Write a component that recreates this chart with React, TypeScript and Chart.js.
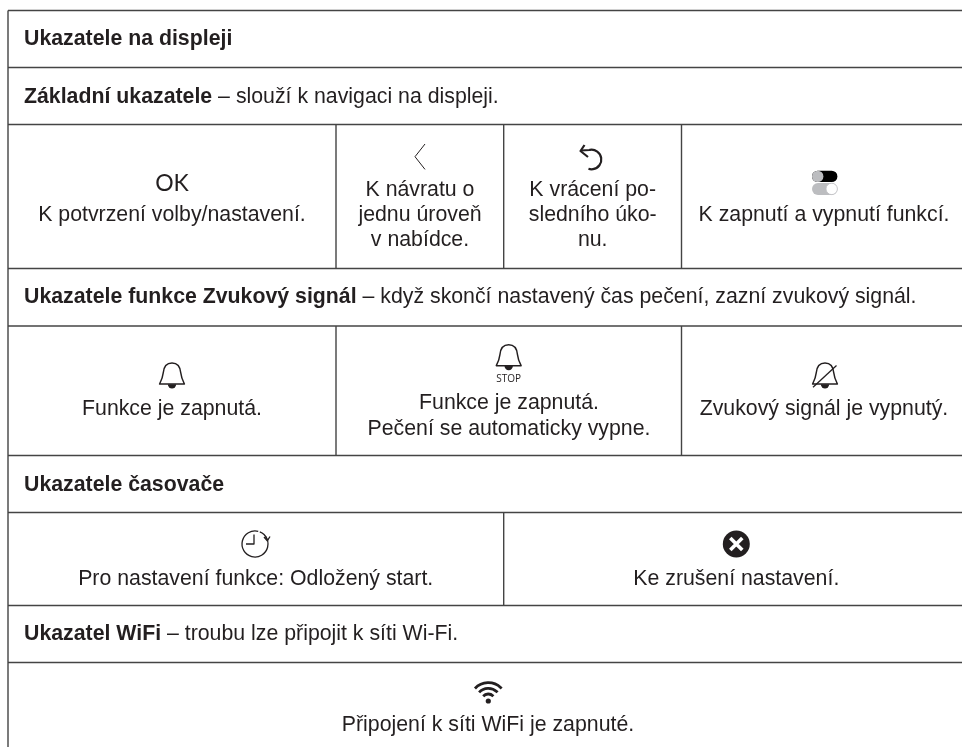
import React, { useEffect, useRef } from "react";
import { Chart, registerables } from "chart.js";

Chart.register(...registerables);

// ---- table content ----
const sectionTitles = [
  ["Ukazatele na displeji", ""],
  ["Základní ukazatele", " – slouží k navigaci na displeji."],
  ["Ukazatele funkce Zvukový signál", " – když skončí nastavený čas pečení, zazní zvukový signál."],
  ["Ukazatele časovače", ""],
  ["Ukazatel WiFi", " – troubu lze připojit k síti Wi-Fi."],
];
const navigationCells = [
  ["K potvrzení volby/nastavení."],
  ["K návratu o", "jednu úroveň", "v nabídce."],
  ["K vrácení po-", "sledního úko-", "nu."],
  ["K zapnutí a vypnutí funkcí."],
];
const soundCells = [
  ["Funkce je zapnutá."],
  ["Funkce je zapnutá.", "Pečení se automaticky vypne."],
  ["Zvukový signál je vypnutý."],
];
const timerCells = [["Pro nastavení funkce: Odložený start."], ["Ke zrušení nastavení."]];
const wifiCells = [["Připojení k síti WiFi je zapnuté."]];
const okLabel = "OK";
const stopLabel = "STOP";

// ---- table grid, in scale units ----
const rowEdges = [10.5, 67.5, 124.5, 268.5, 326, 455.5, 512.5, 605.5, 662.5];
const leftEdge = 8;
const rightEdge = 962;
const bottomEdge = 747;
const verticalRules = [
  [336, 124.5, 268.5],
  [503.7, 124.5, 268.5],
  [681.5, 124.5, 268.5],
  [336, 326, 455.5],
  [681.5, 326, 455.5],
  [503.7, 512.5, 605.5],
];

// ---- text anchors, in scale units ----
const titleX = 24;
const titleBaselines = [45, 102.5, 303, 490.5, 639.5];
const cellCentres = [
  [172, 420, 592.7, 824],
  [172, 509, 824],
  [255.7, 736.3],
  [488],
];
const cellBaselines = [
  [[221], [196, 221, 246], [196, 221, 246], [221]],
  [[415], [409, 434.5], [415]],
  [[585], [585]],
  [[730.5]],
];

const BODY = '"Liberation Sans", Arial, sans-serif';
const INK = "#231f20";
const TEXT_SIZE = 21.3;

function bellPath(ctx: CanvasRenderingContext2D) {
  // origin: centre of the bell's base line
  ctx.beginPath();
  ctx.moveTo(-12.4, 0);
  ctx.lineTo(12.4, 0);
  ctx.bezierCurveTo(10.4, -4, 9.2, -7, 8.8, -11);
  ctx.bezierCurveTo(8.2, -18, 4.5, -21, 0, -21);
  ctx.bezierCurveTo(-4.5, -21, -8.2, -18, -8.8, -11);
  ctx.bezierCurveTo(-9.2, -7, -10.4, -4, -12.4, 0);
  ctx.closePath();
  ctx.lineWidth = 1.5;
  ctx.strokeStyle = INK;
  ctx.stroke();
  ctx.beginPath();
  ctx.arc(0, 0.3, 4.2, 0, Math.PI);
  ctx.closePath();
  ctx.fillStyle = INK;
  ctx.fill();
}

const tablePlugin = {
  id: "tablePlugin",
  afterDatasetsDraw(chart: any) {
    const { ctx } = chart;
    const X = (v: number) => chart.scales.x.getPixelForValue(v);
    const Y = (v: number) => chart.scales.y.getPixelForValue(v);
    const at = (x: number, y: number, draw: () => void) => {
      ctx.save();
      ctx.translate(X(x), Y(y));
      draw();
      ctx.restore();
    };
    ctx.save();
    ctx.textBaseline = "alphabetic";
    ctx.fillStyle = INK;

    sectionTitles.forEach(([strong, plain], i) => {
      ctx.textAlign = "left";
      ctx.font = `bold ${TEXT_SIZE}px ${BODY}`;
      ctx.fillText(strong, X(titleX), Y(titleBaselines[i]));
      const w = ctx.measureText(strong).width;
      ctx.font = `${TEXT_SIZE}px ${BODY}`;
      ctx.fillText(plain, X(titleX) + w, Y(titleBaselines[i]));
    });

    ctx.textAlign = "center";
    ctx.font = `${TEXT_SIZE}px ${BODY}`;
    [navigationCells, soundCells, timerCells, wifiCells].forEach((row, r) => {
      row.forEach((lines, c) => {
        lines.forEach((line, l) => {
          ctx.fillText(line, X(cellCentres[r][c]), Y(cellBaselines[r][c][l]));
        });
      });
    });

    ctx.font = `23px Lato, "Open Sans", sans-serif`;
    ctx.fillText(okLabel, X(172), Y(190.7));
    ctx.font = `10px "Open Sans", sans-serif`;
    ctx.fillText(stopLabel, X(508.7), Y(382));
    ctx.restore();

    ctx.lineCap = "butt";
    ctx.lineJoin = "round";
    // chevron
    at(415, 156.7, () => {
      ctx.beginPath();
      ctx.moveTo(10, -12.7);
      ctx.lineTo(0, 0);
      ctx.lineTo(10, 12.7);
      ctx.lineWidth = 1;
      ctx.strokeStyle = INK;
      ctx.stroke();
    });
    // undo
    at(591.5, 159.5, () => {
      ctx.lineWidth = 2.2;
      ctx.strokeStyle = INK;
      ctx.beginPath();
      ctx.moveTo(-10.5, -9);
      ctx.lineTo(-2, -9.5);
      ctx.arc(0, 0, 9.8, -Math.PI * 0.55, Math.PI * 0.6);
      ctx.stroke();
      ctx.beginPath();
      ctx.moveTo(-7, -14.5);
      ctx.lineTo(-11, -8.5);
      ctx.lineTo(-3.5, -2.5);
      ctx.stroke();
    });
    // toggles
    at(824.7, 176.4, () => {
      ctx.fillStyle = "#000";
      ctx.beginPath();
      ctx.roundRect(-12.7, -5.7, 25.4, 11.4, 5.7);
      ctx.fill();
      ctx.fillStyle = "#bcbdc0";
      ctx.beginPath();
      ctx.arc(-7, 0, 5.7, 0, Math.PI * 2);
      ctx.fill();
    });
    at(824.7, 188.9, () => {
      ctx.fillStyle = "#bcbdc0";
      ctx.beginPath();
      ctx.roundRect(-12.7, -6, 25.4, 12, 6);
      ctx.fill();
      ctx.fillStyle = "#fff";
      ctx.strokeStyle = "#bcbdc0";
      ctx.lineWidth = 0.8;
      ctx.beginPath();
      ctx.arc(7, 0, 5.7, 0, Math.PI * 2);
      ctx.fill();
      ctx.stroke();
    });
    // bells
    at(172, 384, () => bellPath(ctx));
    at(508.7, 365.7, () => bellPath(ctx));
    at(825, 384, () => {
      bellPath(ctx);
      ctx.beginPath();
      ctx.moveTo(-12, 3.3);
      ctx.lineTo(11.5, -18.5);
      ctx.lineWidth = 1.3;
      ctx.strokeStyle = INK;
      ctx.stroke();
    });
    // delayed-start clock
    at(255, 544, () => {
      ctx.lineWidth = 1.3;
      ctx.strokeStyle = INK;
      ctx.beginPath();
      ctx.arc(0, 0, 13, -Math.PI * 0.42, -Math.PI * 0.2, true);
      ctx.stroke();
      ctx.beginPath();
      ctx.moveTo(-1, -9.5);
      ctx.lineTo(-1, 0);
      ctx.lineTo(-9, 0);
      ctx.stroke();
      ctx.beginPath();
      ctx.arc(0, 0, 13, -Math.PI * 0.38, -Math.PI * 0.13);
      ctx.stroke();
      ctx.beginPath();
      ctx.moveTo(9, -7);
      ctx.lineTo(12.3, -3.2);
      ctx.lineTo(15, -7.5);
      ctx.stroke();
    });
    // cancel
    at(736.3, 544, () => {
      ctx.fillStyle = INK;
      ctx.beginPath();
      ctx.arc(0, 0, 13.5, 0, Math.PI * 2);
      ctx.fill();
      ctx.strokeStyle = "#fff";
      ctx.lineWidth = 3.6;
      ctx.beginPath();
      ctx.moveTo(-6, -6);
      ctx.lineTo(6, 6);
      ctx.moveTo(6, -6);
      ctx.lineTo(-6, 6);
      ctx.stroke();
    });
    // wifi
    at(488.3, 701, () => {
      ctx.fillStyle = INK;
      ctx.beginPath();
      ctx.arc(0, 0, 2.6, 0, Math.PI * 2);
      ctx.fill();
      ctx.strokeStyle = INK;
      ctx.lineWidth = 2.8;
      [7, 12.6, 18.3].forEach((r) => {
        ctx.beginPath();
        ctx.arc(0, 0, r, -Math.PI * 0.76, -Math.PI * 0.24);
        ctx.stroke();
      });
    });
  },
};

export default function App() {
  const ref = useRef<HTMLCanvasElement | null>(null);
  useEffect(() => {
    const rule = { borderColor: "#444444", borderWidth: 1.4, showLine: true, pointRadius: 0, fill: false, tension: 0 };
    const datasets = [
      ...rowEdges.map((y) => ({ ...rule, data: [{ x: leftEdge, y }, { x: rightEdge, y }] })),
      { ...rule, data: [{ x: leftEdge, y: rowEdges[0] }, { x: leftEdge, y: bottomEdge }] },
      ...verticalRules.map(([x, a, b]) => ({ ...rule, data: [{ x, y: a }, { x, y: b }] })),
    ];
    const chart = new Chart(ref.current as HTMLCanvasElement, {
      type: "scatter",
      data: { datasets },
      options: {
        animation: false,
        responsive: false,
        maintainAspectRatio: false,
        layout: { padding: 0 },
        plugins: { legend: { display: false }, title: { display: false }, tooltip: { enabled: false } },
        scales: {
          x: { type: "linear", min: 0, max: 962, display: false },
          y: { type: "linear", min: 0, max: 747, reverse: true, display: false },
        },
      },
      plugins: [tablePlugin],
    } as any);
    return () => chart.destroy();
  }, []);
  return (
    <div style={{ position: "fixed", left: 0, top: 0, width: 962, height: 747, background: "#fff", overflow: "hidden" }}>
      <canvas ref={ref} width={962} height={747} style={{ display: "block" }} />
    </div>
  );
}
